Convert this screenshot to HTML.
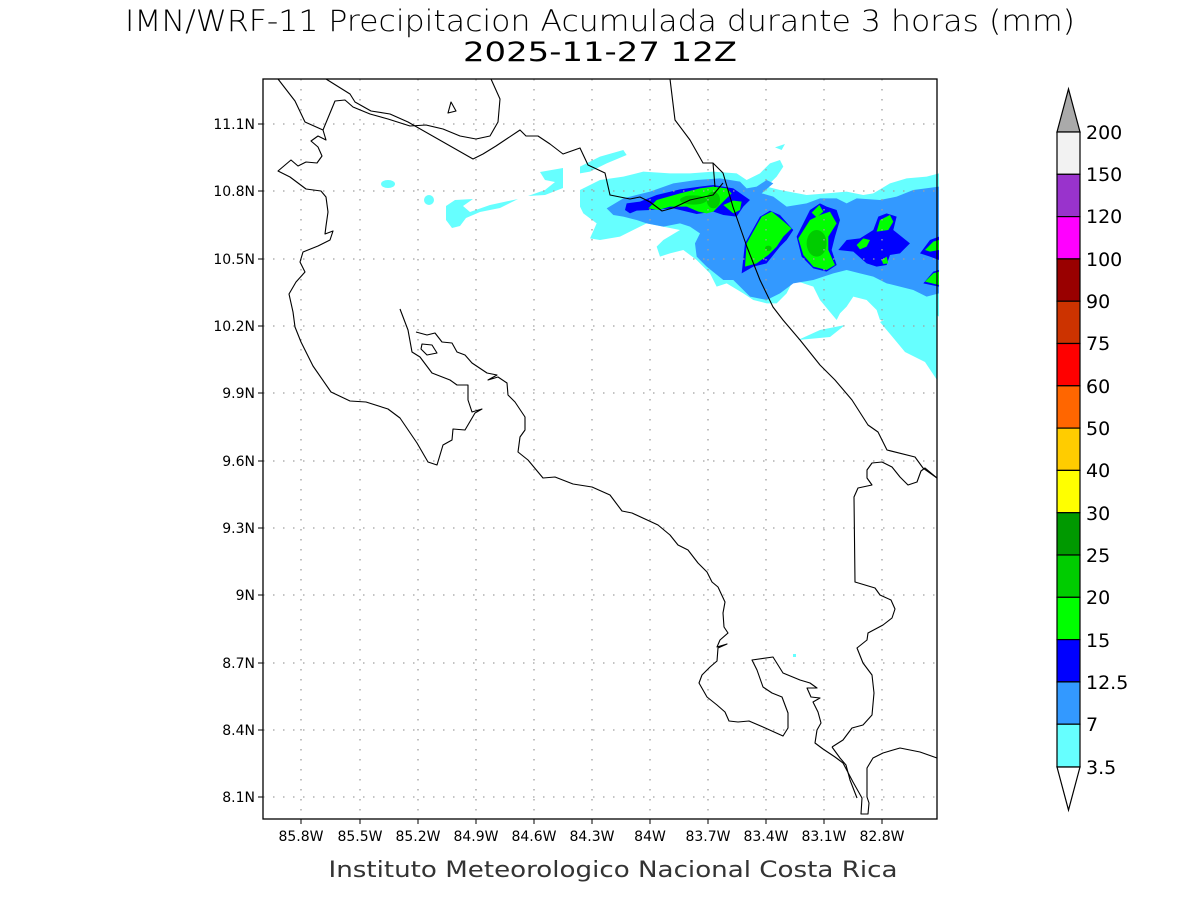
<!DOCTYPE html>
<html><head><meta charset="utf-8"><style>html,body{margin:0;padding:0;background:#fff}svg{display:block}</style></head>
<body>
<svg width="1200" height="900" viewBox="0 0 1200 900" xmlns="http://www.w3.org/2000/svg" font-family="'DejaVu Sans','Liberation Sans',sans-serif">
<rect width="1200" height="900" fill="#fff"/>
<text x="600" y="31" font-size="29" text-anchor="middle" textLength="950" lengthAdjust="spacingAndGlyphs" font-weight="300">IMN/WRF-11 Precipitacion Acumulada durante 3 horas (mm)</text>
<text x="600" y="61" font-size="27" text-anchor="middle" textLength="274" lengthAdjust="spacingAndGlyphs">2025-11-27 12Z</text>

<g transform="translate(580,140) scale(0.3333)">
<polygon fill="#66ffff" points="0,150 60,120 130,110 190,95 270,100 330,100 400,95 470,100 500,120 540,100 570,70 600,60 610,80 590,110 560,140 600,150 680,165 740,160 800,155 850,165 880,160 930,130 980,115 1040,110 1077,100 1077,530 1050,510 1000,520 960,540 900,540 890,510 860,480 820,470 800,500 780,520 770,540 720,480 700,440 640,420 620,460 590,490 560,490 520,480 490,460 440,430 410,440 390,400 350,360 310,330 270,340 240,350 230,320 250,300 300,270 200,250 120,290 60,300 30,295 50,250 10,220 0,200"/>
<polygon fill="#66ffff" points="0,80 60,50 130,30 140,45 80,70 30,95 0,100"/>
<polygon fill="#66ffff" points="585,22 615,12 605,30"/>
<polygon fill="#3399ff" points="80,205 130,175 210,155 280,130 350,120 420,115 480,125 500,145 530,140 560,120 580,130 545,160 580,170 620,200 680,190 720,175 770,175 800,190 830,175 900,180 950,170 1000,150 1077,140 1077,460 1040,470 1000,450 960,440 920,430 880,410 840,400 800,390 760,400 700,420 640,430 600,460 560,480 510,470 480,440 460,420 430,420 380,380 350,350 345,310 360,280 330,260 300,250 250,260 200,250 170,240 130,230 100,225"/>
<g fill="#0000ff">
<polygon points="140,190 180,185 230,165 300,148 360,140 400,135 460,145 510,180 490,200 470,230 430,225 400,215 350,222 280,205 210,210 170,212 150,220 135,210"/>
<polygon points="485,400 495,310 540,230 570,212 600,225 640,270 620,300 600,320 560,370 520,380"/>
<polygon points="650,290 690,210 720,190 740,200 770,210 780,240 765,290 755,330 770,375 740,395 700,385 665,350"/>
<polygon points="775,330 800,300 840,295 880,270 895,230 920,220 950,230 940,270 990,310 960,340 930,345 920,375 890,380 860,370 820,335"/>
<polygon points="1020,340 1050,300 1077,290 1077,360 1050,350"/>
<polygon points="1030,430 1060,395 1077,390 1077,440"/>
</g>
<g fill="#00ff00">
<polygon points="205,205 230,180 300,160 360,145 400,140 440,145 455,160 430,185 400,215 380,220 355,215 320,200 270,200 235,210"/>
<polygon points="430,195 460,182 485,185 480,210 460,220"/>
<polygon points="495,380 500,310 545,230 575,215 600,235 635,265 610,290 590,320 565,345 530,370"/>
<polygon points="655,295 690,240 720,225 750,215 770,250 745,290 745,330 765,375 740,390 700,380 670,345"/>
<polygon points="695,218 718,195 730,215 710,232"/>
<polygon points="890,275 900,240 930,225 940,245 925,270"/>
<polygon points="830,315 850,295 870,300 860,320 840,328"/>
<polygon points="905,360 920,350 925,370 910,372"/>
<polygon points="1035,330 1060,305 1077,300 1077,330 1050,335"/>
<polygon points="1035,425 1060,400 1077,395 1077,435"/>
</g>
<g fill="#00cc00">
<ellipse cx="340" cy="180" rx="40" ry="14"/><ellipse cx="400" cy="180" rx="20" ry="25"/>
<ellipse cx="710" cy="310" rx="30" ry="40"/><ellipse cx="565" cy="325" rx="10" ry="8"/>
</g>
</g>
<g fill="#66ffff">
<ellipse cx="388" cy="184" rx="7" ry="4"/><circle cx="429" cy="200" r="5"/>
<polygon points="446,206 455,200 473,199 463,206 470,212 490,205 518,199 500,208 480,212 466,218 460,226 452,228 446,220"/>
<polygon points="528,196 545,190 555,182 545,180 540,172 563,168 563,188 545,195"/>
<polygon points="880,322 910,307 937,300 937,380 925,362 905,352"/>
<polygon points="798,340 820,330 845,325 830,337"/>
<rect x="793" y="654" width="3" height="3"/>
</g>

<g stroke="#a0a0a0" stroke-width="1.3" stroke-dasharray="1.5,8.5" fill="none">
<path d="M301 79V819M360 79V819M418 79V819M476 79V819M534 79V819M592 79V819M650 79V819M708 79V819M766 79V819M824 79V819M882 79V819"/>
<path d="M263 124H937M263 191H937M263 259H937M263 326H937M263 393H937M263 461H937M263 528H937M263 595H937M263 663H937M263 730H937M263 797H937"/>
</g>

<g stroke="#000" stroke-width="1.1" fill="none" stroke-linejoin="round">
<polyline points="278,79 295,101 305,122 323,130 326,140 318,136 311,141 318,147 322,156 317,163 306,162 298,166 291,160 278,171 290,177 306,189 321,191 326,197 328,212 326,226 325,234 333,231 330,240 318,246 303,252 300,262 305,272 296,282 289,294 293,312 295,327 301,342 313,366 331,392 350,401 366,402 388,409 400,418 417,443 428,462 437,465 443,445 452,440 453,429 465,430 475,413 482,409 472,412 468,400 468,385 457,385 450,380 432,373 420,357 412,352 408,330 400,309"/>
<polyline points="416,332 427,335 435,333 442,342 452,343 457,352 465,355 472,363 487,373 497,375 488,380 498,377 507,383 508,395 515,402 525,417 525,430 520,437 518,452 528,460 543,478 555,477 573,484 592,487 610,495 622,511 632,513 658,525 670,535 678,545 688,550 698,563 707,572 712,582 718,587 725,602 723,613 724,627 728,633 720,640 717,647 727,644 718,648 717,661 710,667 702,675 699,683 707,697 717,705 725,712 729,721 738,722 749,721 763,727 783,736 788,728 788,713 782,697 772,693 763,687 757,670 752,660 773,657 783,673 800,680 810,683 817,688 807,688 811,697 820,698 813,702 818,712 821,723 817,730 815,743 823,749 835,757 843,763 853,782 862,798 861,814 868,814 869,803 867,797 867,768 873,758 883,753 900,748 920,752 937,758"/>
<polyline points="832,747 843,740 852,728 863,725 872,715 874,693 872,675 863,663 857,648 867,640 868,633 883,625 892,618 895,609 891,600 880,595 875,588 855,582 854,497 858,488 872,485 867,478 867,470 872,463 882,462 892,467 900,477 908,485 917,482 921,471 925,468 937,478"/>
<polyline points="832,747 840,758 846,765 850,780 857,798"/>
<polyline points="670,79 675,120 690,140 703,163 713,163 723,173 728,190 733,207 740,227 747,247 760,280 773,307 783,320 800,340 820,365 835,380 852,400 868,425 878,432 887,450 915,457 923,468 937,478"/>
<polyline points="326,79 350,94 355,102 371,111 390,114 408,122 473,159 483,154 496,146 520,130 526,136 538,136 550,144 563,154 580,148 588,165 605,173 610,195 630,199 640,197 650,202 662,211 673,208 690,200 713,195 723,183"/>
<polyline points="713,163 715,187"/>
<polyline points="323,130 335,101 345,100 353,107 370,114 388,119 410,126 426,125 443,129 460,136 476,139 490,136 498,122 500,99 491,79"/>
<polygon points="448,113 451,102 456,111"/>
<polygon points="422,344 432,345 437,353 427,355 421,349"/>
</g>

<rect x="263" y="79" width="674" height="740" fill="none" stroke="#000" stroke-width="1.3"/>
<g stroke="#000" stroke-width="1"><path d="M301 819v5M360 819v5M418 819v5M476 819v5M534 819v5M592 819v5M650 819v5M708 819v5M766 819v5M824 819v5M882 819v5"/>
<path d="M258 124h5M258 191h5M258 259h5M258 326h5M258 393h5M258 461h5M258 528h5M258 595h5M258 663h5M258 730h5M258 797h5"/></g>

<g font-size="14" text-anchor="middle">
<text x="301" y="841">85.8W</text><text x="360" y="841">85.5W</text><text x="418" y="841">85.2W</text><text x="476" y="841">84.9W</text><text x="534" y="841">84.6W</text><text x="592" y="841">84.3W</text><text x="650" y="841">84W</text><text x="708" y="841">83.7W</text><text x="766" y="841">83.4W</text><text x="824" y="841">83.1W</text><text x="882" y="841">82.8W</text>
</g>
<g font-size="14" text-anchor="end">
<text x="255" y="129">11.1N</text><text x="255" y="196">10.8N</text><text x="255" y="264">10.5N</text><text x="255" y="331">10.2N</text><text x="255" y="398">9.9N</text><text x="255" y="466">9.6N</text><text x="255" y="533">9.3N</text><text x="255" y="600">9N</text><text x="255" y="668">8.7N</text><text x="255" y="735">8.4N</text><text x="255" y="802">8.1N</text>
</g>
<text x="613" y="877" font-size="22" text-anchor="middle" textLength="569" lengthAdjust="spacingAndGlyphs" fill="#333">Instituto Meteorologico Nacional Costa Rica</text>

<g stroke="#000" stroke-width="1.2">
<polygon points="1057,132 1068.5,89 1080,132" fill="#aaaaaa"/>
<rect x="1057" y="132" width="23" height="42.3" fill="#f2f2f2"/>
<rect x="1057" y="174.3" width="23" height="42.3" fill="#9933cc"/>
<rect x="1057" y="216.6" width="23" height="42.3" fill="#ff00ff"/>
<rect x="1057" y="258.9" width="23" height="42.3" fill="#990000"/>
<rect x="1057" y="301.2" width="23" height="42.3" fill="#cc3300"/>
<rect x="1057" y="343.5" width="23" height="42.3" fill="#ff0000"/>
<rect x="1057" y="385.8" width="23" height="42.3" fill="#ff6600"/>
<rect x="1057" y="428.1" width="23" height="42.3" fill="#ffcc00"/>
<rect x="1057" y="470.4" width="23" height="42.3" fill="#ffff00"/>
<rect x="1057" y="512.7" width="23" height="42.3" fill="#009900"/>
<rect x="1057" y="555" width="23" height="42.3" fill="#00cc00"/>
<rect x="1057" y="597.3" width="23" height="42.3" fill="#00ff00"/>
<rect x="1057" y="639.6" width="23" height="42.3" fill="#0000ff"/>
<rect x="1057" y="681.9" width="23" height="42.3" fill="#3399ff"/>
<rect x="1057" y="724.2" width="23" height="42.8" fill="#66ffff"/>
<polygon points="1057,767 1068.5,810 1080,767" fill="#fff"/>
</g>
<g font-size="19">
<text x="1086" y="139">200</text><text x="1086" y="181">150</text><text x="1086" y="223">120</text><text x="1086" y="266">100</text><text x="1086" y="308">90</text><text x="1086" y="350">75</text><text x="1086" y="393">60</text><text x="1086" y="435">50</text><text x="1086" y="477">40</text><text x="1086" y="520">30</text><text x="1086" y="562">25</text><text x="1086" y="604">20</text><text x="1086" y="647">15</text><text x="1086" y="689">12.5</text><text x="1086" y="731">7</text><text x="1086" y="774">3.5</text>
</g>
</svg>
</body></html>
